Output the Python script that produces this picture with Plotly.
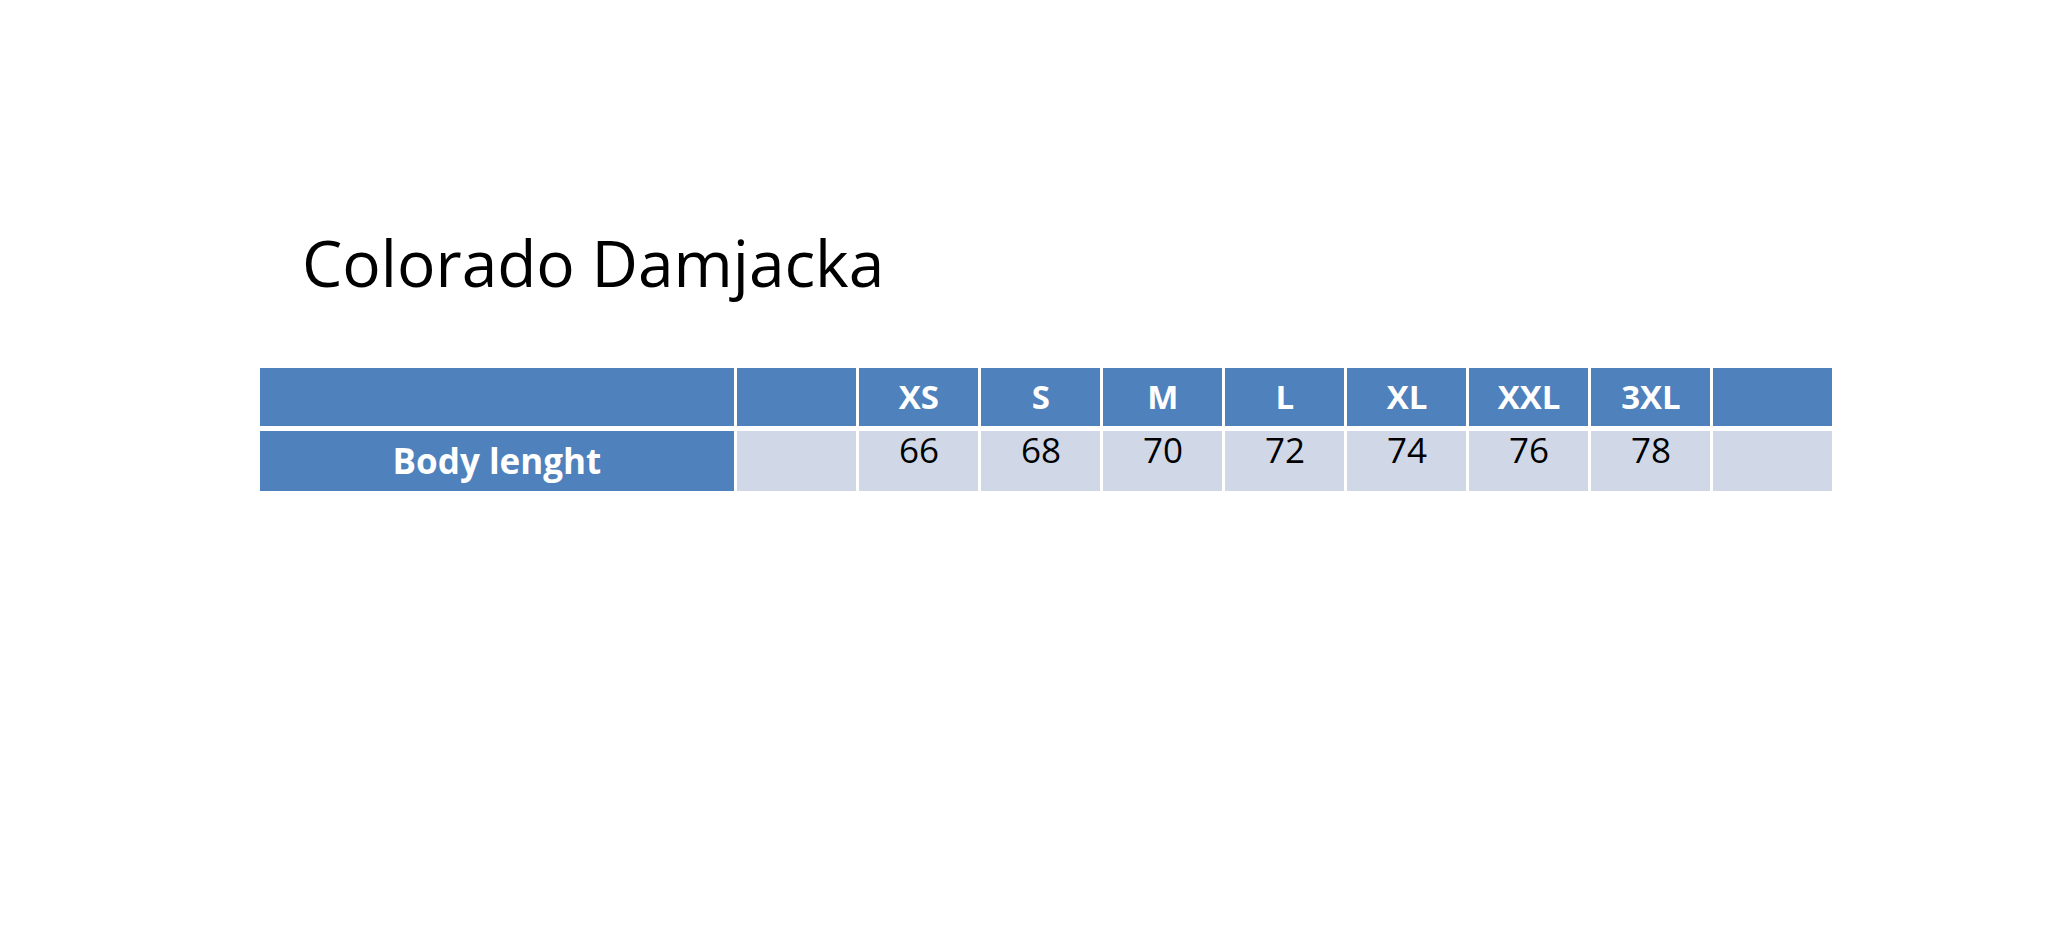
import plotly.graph_objects as go

title = "Colorado Damjacka"
sizes = ["XS", "S", "M", "L", "XL", "XXL", "3XL"]
measures = ["Body lenght", "1/2 Chest", "Sleeve length", "1/2 Bottom"]
body_length = ["66", "68", "70", "72", "74", "76", "78"]
half_chest = ["47", "50", "53", "57", "62", "67", "72"]
sleeve_length = ["60", "61,5", "63", "63", "64,5", "64,5", "66"]
half_bottom = ["49", "52", "55", "59", "64", "69", "74"]

rows = [body_length, half_chest, sleeve_length, half_bottom]
blue = "#4F81BD"
dark = "#D0D8E8"
light = "#E9EDF4"
row_fill = [dark, light, dark, light]

ncols = len(sizes) + 3
widths = [470] + [120] * (ncols - 1)
font = "Open Sans"
x0, x1 = 250 / 2064, 1826 / 2064

# full body grid, first row goes in the header of the second table
grid = []
for j, m in enumerate(measures):
    grid.append([f"<b>{m}</b>", ""] + rows[j] + [""])
cols = [[grid[j][c] for j in range(1, 4)] for c in range(ncols)]
fills = [[blue] * 3] + [row_fill[1:]] * (ncols - 1)
fcolors = [["white"] * 3] + [["black"] * 3] * (ncols - 1)

fig = go.Figure()
fig.add_trace(go.Table(
    domain=dict(x=[x0, x1], y=[0.3, 1 - 358 / 936]),
    columnwidth=widths,
    header=dict(values=[""] + [""] + [f"<b>{s}</b>" for s in sizes] + [""],
                fill_color=blue, line=dict(color="white", width=3),
                font=dict(family=font, size=33, color="white"),
                align="center", height=54),
))
fig.add_trace(go.Table(
    domain=dict(x=[x0, x1], y=[0.0, 1 - 421 / 936]),
    columnwidth=widths,
    header=dict(values=grid[0], height=56,
                fill_color=[blue] + [dark] * (ncols - 1),
                line=dict(color="white", width=3), align="center",
                font=dict(family=font, size=35, color=["white"] + ["black"] * (ncols - 1))),
    cells=dict(values=cols,
               fill_color=fills, line=dict(color="white", width=3),
               font=dict(family=font, size=35, color=fcolors),
               align="center", height=60),
))
fig.add_annotation(text=title, x=292 / 2064, y=1 - 255 / 936, xref="paper", yref="paper",
                   xanchor="left", yanchor="middle", showarrow=False,
                   font=dict(family=font, size=64, color="black"))
fig.update_layout(width=2064, height=936, margin=dict(l=0, r=0, t=0, b=0),
                  paper_bgcolor="white", plot_bgcolor="white")
fig.write_html("out.html")
